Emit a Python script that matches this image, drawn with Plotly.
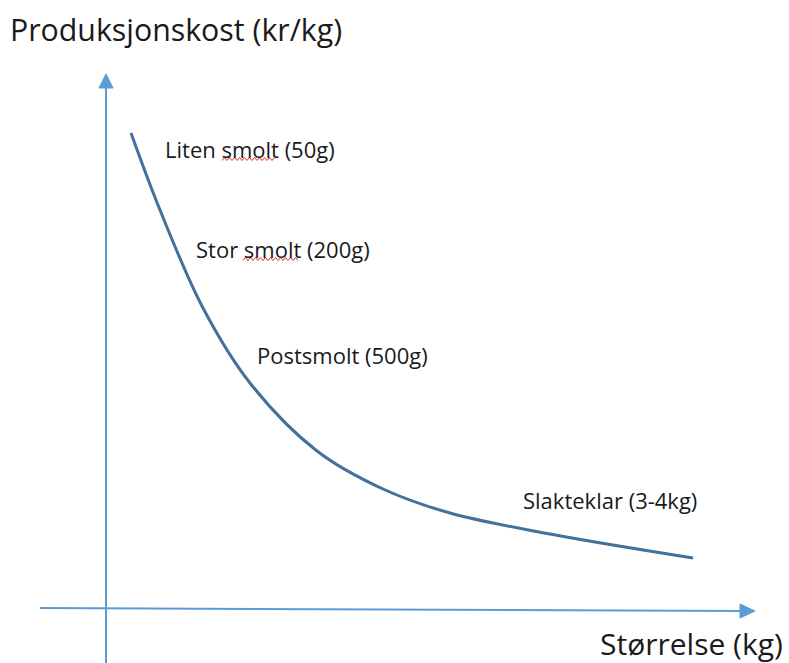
import plotly.graph_objects as go

# Conceptual curve: production cost vs fish size (arbitrary units)
size = [25, 54, 97, 144, 211, 277, 344, 444, 587]
cost = [475, 398, 300, 225, 157, 119, 95, 74, 50]

stage_labels = ["Liten smolt (50g)", "Stor smolt (200g)", "Postsmolt (500g)", "Slakteklar (3-4kg)"]
y_title = "Produksjonskost (kr/kg)"
x_title = "Størrelse (kg)"

W, H = 789, 663
X0, Y0 = 106, 608  # pixel location of origin
XR = [-X0, W - X0]
YR = [Y0 - H, Y0]

AXIS_C = "#5B9BD5"
CURVE_C = "#41719C"
FONT = "Open Sans"
TXT_C = "#1a1a1a"

fig = go.Figure()
fig.add_trace(go.Scatter(x=size, y=cost, mode="lines",
                         line=dict(color=CURVE_C, width=3, shape="spline", smoothing=1.0),
                         hoverinfo="skip", showlegend=False))

shapes = []
# vertical axis
shapes.append(dict(type="line", xref="x", yref="y", x0=0, y0=Y0 - 663, x1=0, y1=Y0 - 86,
                   line=dict(color=AXIS_C, width=2)))
shapes.append(dict(type="path", xref="x", yref="y",
                   path=f"M -7,{Y0-88} L 7,{Y0-88} L 0,{Y0-74} Z",
                   fillcolor=AXIS_C, line=dict(color=AXIS_C, width=1)))
# horizontal axis (slightly tilted as in original)
shapes.append(dict(type="line", xref="x", yref="y", x0=40 - X0, y0=0, x1=742 - X0, y1=-3,
                   line=dict(color=AXIS_C, width=2)))
shapes.append(dict(type="path", xref="x", yref="y",
                   path=f"M {740-X0},4 L {740-X0},-10 L {755-X0},-3 Z",
                   fillcolor=AXIS_C, line=dict(color=AXIS_C, width=1)))

# red spell-check squiggles under "smolt"
def squiggle(px0, px1, py):
    pts = []
    x = px0
    i = 0
    while x <= px1:
        yy = py + (1.5 if i % 2 == 0 else -1.5)
        pts.append(f"{x - X0},{Y0 - yy}")
        x += 2.5
        i += 1
    return "M " + " L ".join(pts)

for (a, b, c) in [(222, 276, 159), (243, 300, 259)]:
    shapes.append(dict(type="path", xref="x", yref="y", path=squiggle(a, b, c),
                       line=dict(color="#E03030", width=1)))

annotations = []
label_px = [(163, 149), (194, 249), (255, 355), (521, 500)]
for txt, (px, py) in zip(stage_labels, label_px):
    annotations.append(dict(x=px - X0, y=Y0 - py, xref="x", yref="y", text=txt,
                            showarrow=False, xanchor="left", yanchor="middle",
                            font=dict(family=FONT, size=22, color=TXT_C)))
annotations.append(dict(x=8 / W, y=1 - 30 / H, xref="paper", yref="paper", text=y_title,
                        showarrow=False, xanchor="left", yanchor="middle",
                        font=dict(family=FONT, size=30.3, color=TXT_C)))
annotations.append(dict(x=785 / W, y=1 - 643 / H, xref="paper", yref="paper", text=x_title,
                        showarrow=False, xanchor="right", yanchor="middle",
                        font=dict(family=FONT, size=30, color=TXT_C)))

fig.update_layout(
    width=W, height=H,
    margin=dict(l=0, r=0, t=0, b=0),
    paper_bgcolor="white", plot_bgcolor="white",
    xaxis=dict(range=XR, visible=False, fixedrange=True),
    yaxis=dict(range=YR, visible=False, fixedrange=True),
    shapes=shapes, annotations=annotations,
    showlegend=False,
)
fig.write_html("out.html", config={"displayModeBar": False},
               post_script="document.body.style.margin='0px';")
